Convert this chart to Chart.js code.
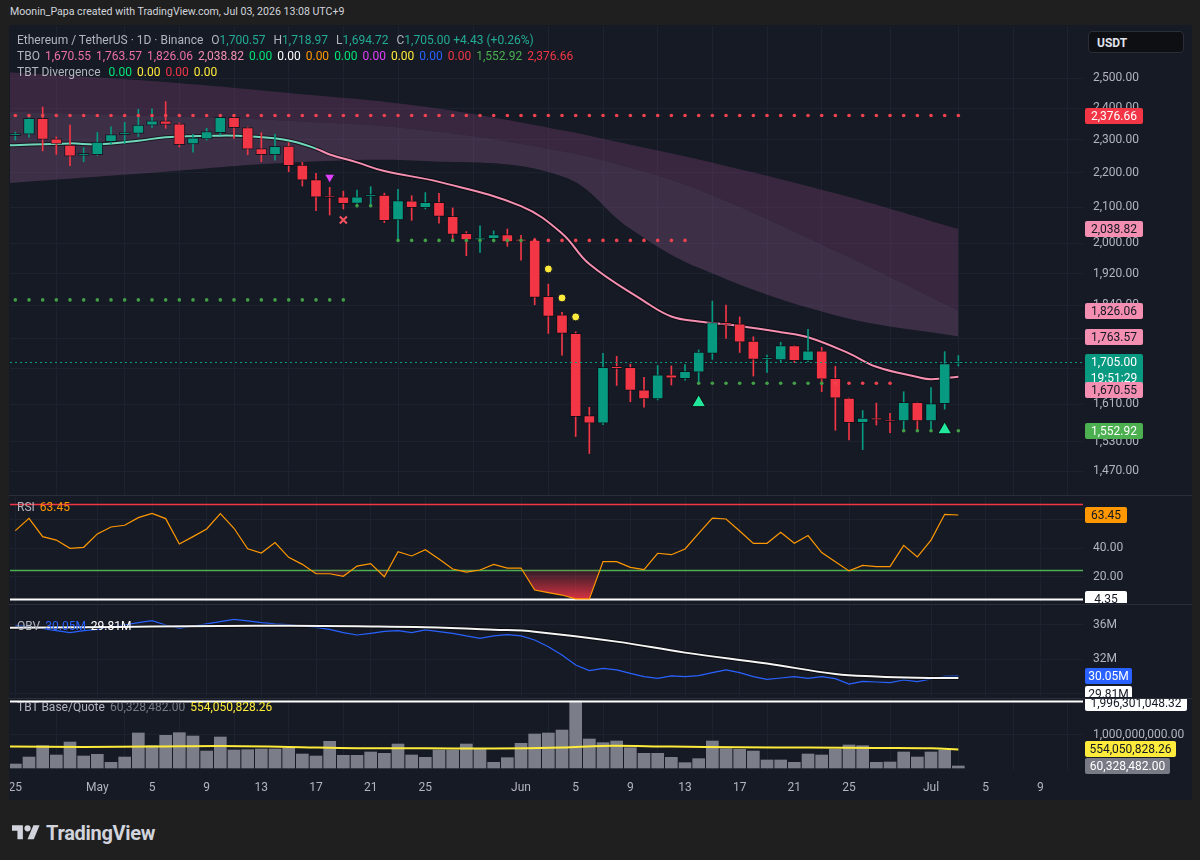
<!DOCTYPE html>
<html>
<head>
<meta charset="utf-8">
<script src="https://cdn.jsdelivr.net/npm/chart.js@4.4.1/dist/chart.umd.min.js"></script>
<style>
  body { margin:0; width:1200px; height:860px; background:#1f1f1f; position:relative; overflow:hidden; font-family:Roboto, "Noto Sans", sans-serif; }
  #frame { position:absolute; left:9px; top:25px; width:1183px; height:775px; background:#161a25; }
  canvas { position:absolute; left:10px; }
  .sep { position:absolute; left:9px; width:1183px; height:1px; background:#2a2e39; }
  .t { position:absolute; white-space:nowrap; font-size:12px; line-height:14px; color:#b2b5be; z-index:5; }
  .t span { margin-right:5px; }
  #usdt { position:absolute; left:1088px; top:31px; width:96px; height:22px; background:#0e0f13; border:1px solid #2a2e39; border-radius:4px; color:#e0e3eb; font-size:12px; font-weight:bold; line-height:22px; padding-left:8px; box-sizing:border-box; z-index:5; }
  #logo { position:absolute; left:12px; top:821px; display:flex; align-items:center; color:#d1d4dc; font-size:20px; font-weight:bold; letter-spacing:-0.3px; }
</style>
</head>
<body>
<div id="frame"></div>
<div class="t" style="left:10px;top:5px;color:#d1d4dc;font-size:10.6px;">Moonin_Papa created with TradingView.com, Jul 03, 2026 13:08 UTC+9</div>
<div class="t" style="left:17px;top:33px;"><span>Ethereum / TetherUS · 1D · Binance</span> <span>O<b style="font-weight:normal;color:#22ab94">1,700.57</b></span> <span>H<b style="font-weight:normal;color:#22ab94">1,718.97</b></span> <span>L<b style="font-weight:normal;color:#22ab94">1,694.72</b></span> <span>C<b style="font-weight:normal;color:#22ab94">1,705.00 +4.43 (+0.26%)</b></span></div>
<div class="t" style="left:17px;top:49px;"><span>TBO</span><span style="color:#ec6fa5">1,670.55</span><span style="color:#ec6fa5">1,763.57</span><span style="color:#ec6fa5">1,826.06</span><span style="color:#f48fb1">2,038.82</span><span style="color:#00e676">0.00</span><span style="color:#ffffff">0.00</span><span style="color:#ff9800">0.00</span><span style="color:#00e676">0.00</span><span style="color:#e040fb">0.00</span><span style="color:#ffeb3b">0.00</span><span style="color:#2962ff">0.00</span><span style="color:#f23645">0.00</span><span style="color:#4caf50">1,552.92</span><span style="color:#f23645">2,376.66</span></div>
<div class="t" style="left:17px;top:65px;"><span>TBT Divergence</span> <span style="color:#00e676">0.00</span><span style="color:#ffeb3b">0.00</span><span style="color:#f23645">0.00</span><span style="color:#ffeb3b">0.00</span></div>
<div id="usdt">USDT</div>
<div class="t" style="left:17px;top:500px;"><span>RSI</span><span style="color:#ff9800">63.45</span></div>
<div class="t" style="left:17px;top:619px;"><span>OBV</span><span style="color:#2962ff">30.05M</span><span style="color:#ffffff">29.81M</span></div>
<div class="t" style="left:17px;top:700px;"><span>TBT Base/Quote</span><span style="color:#787b86">60,328,482.00</span><span style="color:#ffeb3b">554,050,828.26</span></div>

<canvas id="main" width="1182" height="469" style="top:26px"></canvas>
<div class="sep" style="top:495px"></div>
<canvas id="rsi" width="1182" height="106" style="top:497px"></canvas>
<div class="sep" style="top:604px"></div>
<canvas id="obv" width="1182" height="91" style="top:606px"></canvas>
<div class="sep" style="top:698px"></div>
<canvas id="vol" width="1182" height="101" style="top:699px"></canvas>

<div id="logo">
  <svg width="28" height="22" viewBox="0 0 36 28"><path fill="#d1d4dc" d="M14 22H7V11H0V4h14v18Z"/><circle fill="#d1d4dc" cx="20" cy="8" r="4"/><path fill="#d1d4dc" d="M28 22h-8l7.5-18h8L28 22Z"/></svg>
  <span style="margin-left:6px">TradingView</span>
</div>

<script>
// day index 0 = Apr 25, 69 = Jul 3
var dateTicks  = [0, 6, 10, 14, 18, 22, 26, 30, 37, 41, 45, 49, 53, 57, 61, 67, 71, 75];
var dateLabels = ['25', 'May', '5', '9', '13', '17', '21', '25', 'Jun', '5', '9', '13', '17', '21', '25', 'Jul', '5', '9'];

var opens  = [2313,2318,2368,2303,2284,2252,2254,2294,2316,2320,2346,2360,2350,2287,2303,2322,2371,2338,2273,2254,
              2281,2223,2180,2131,2130,2111,2131,2135,2064,2118,2099,2114,2074,2027,2009,2013,2024,2009,2009,1862,
              1816,1771,1585,1569,1694,1692,1641,1621,1675,1666,1681,1724,1797,1794,1753,1710,1709,1742,1707,1730,
              1667,1623,1570,1580,1576,1574,1614,1574,1611,1700.57];
var highs  = [2324,2372,2404,2309,2346,2276,2323,2341,2355,2397,2398,2422,2353,2317,2336,2378,2372,2340,2322,2317,
              2291,2231,2198,2157,2146,2149,2159,2140,2151,2133,2142,2140,2098,2032,2048,2034,2039,2022,2014,1893,
              1822,1775,1603,1724,1717,1699,1669,1696,1695,1698,1732,1850,1840,1811,1763,1720,1750,1742,1781,1738,
              1694,1623,1596,1612,1590,1637,1614,1646,1728,1718.97];
var lows   = [2299,2308,2266,2255,2221,2233,2252,2286,2288,2310,2339,2336,2278,2262,2299,2315,2304,2254,2233,2238,
              2203,2161,2090,2078,2095,2101,2101,2057,2007,2063,2095,2055,2011,1967,1976,2004,1992,1955,1841,1771,
              1720,1541,1506,1566,1651,1615,1603,1619,1652,1663,1657,1710,1759,1726,1672,1680,1705,1703,1705,1637,
              1554,1534,1514,1565,1549,1555,1555,1556,1599,1694.72];
var closes = [2319,2368,2301,2287,2250,2256,2293,2316,2321,2346,2360,2348,2285,2306,2326,2371,2338,2271,2254,2280,
              2221,2178,2129,2127,2110,2130,2134,2062,2119,2099,2114,2074,2024,2009,2015,2024,2004,2006,1859,1812,
              1771,1583,1569,1692,1689,1640,1621,1675,1667,1683,1727,1797,1793,1750,1710,1713,1742,1707,1730,1665,
              1623,1570,1580,1576,1572,1614,1574,1611,1700.57,1705.00];

// TBO lines (sparse readings, day index -> price)
var tboSlowest = [{x:-0.4,y:2520},{x:10,y:2490},{x:20,y:2450},{x:30,y:2405},{x:40,y:2330},{x:45,y:2285},{x:50,y:2240},{x:60,y:2140},{x:69,y:2038.82}];
var tboSlow    = [{x:-0.4,y:2390},{x:10,y:2375},{x:20,y:2360},{x:30,y:2330},{x:40,y:2265},{x:45,y:2215},{x:50,y:2150},{x:60,y:1980},{x:69,y:1826.06}];
var tboMedium  = [{x:-0.4,y:2170},{x:10,y:2200},{x:20,y:2230},{x:30,y:2235},{x:40,y:2190},{x:45,y:2040},{x:50,y:1935},{x:60,y:1815},{x:69,y:1763.57}];
var tboFast    = [{x:-0.4,y:2283},{x:4,y:2289},{x:6,y:2286},{x:9,y:2297},{x:11,y:2308},{x:15,y:2313},{x:17,y:2311},
                  {x:20,y:2298},{x:22,y:2273},{x:23,y:2255},{x:25,y:2231},{x:27,y:2205},{x:31,y:2173},{x:37,y:2103},
                  {x:40,y:2027},{x:42,y:1945},{x:46,y:1850},{x:48,y:1812},{x:50,y:1800},{x:53,y:1789},{x:56,y:1774},
                  {x:58,y:1762},{x:61,y:1724},{x:63,y:1693},{x:66,y:1670},{x:67,y:1665},{x:69,y:1670.55}];

// dotted stop levels
var dotLevels = [
  {price:2376.66, from:0,  to:69, bull:false},
  {price:1853,    from:0,  to:24, bull:true},
  {price:2104,    from:25, to:26, bull:true},
  {price:2008,    from:28, to:37, bull:true},
  {price:2008,    from:38, to:49, bull:false},
  {price:1656,    from:50, to:59, bull:true},
  {price:1656,    from:60, to:64, bull:false},
  {price:1552.92, from:65, to:69, bull:true}
];
var sellMarks   = [{x:23, y:2187}];
var crossMarks  = [{x:24, y:2064}];
var yellowMarks = [{x:39, y:1932}, {x:40, y:1858}, {x:41, y:1811}];
var buyMarks    = [{x:50, y:1613}, {x:68, y:1555}];

var priceTicks = [2500, 2400, 2300, 2200, 2100, 2000, 1920, 1840, 1760, 1690, 1610, 1530, 1470];

var rsi = [52.4,61.1,48.2,45.8,40.0,40.7,50.1,55.0,56.2,61.6,64.6,60.9,43.0,48.2,53.6,64.4,54.1,39.7,36.7,44.0,
           33.6,28.7,22.1,22.1,20.3,27.5,29.2,20.0,37.6,34.6,39.0,32.5,25.4,23.3,24.7,28.7,26.1,26.1,10.6,8.8,
           7.1,4.35,4.35,30.6,30.6,26.6,25.0,36.5,35.5,39.5,50.5,61.3,60.6,52.2,43.5,43.5,51.3,43.5,49.0,37.0,
           30.6,24.1,28.0,27.1,27.1,42.1,33.9,45.8,63.9,63.45];

// OBV in millions
var obv = [35.92,35.81,35.57,35.34,35.11,35.34,35.49,35.81,36.00,36.27,36.51,36.00,35.61,35.88,36.12,36.39,36.66,36.47,36.27,36.12,
           36.04,35.88,35.73,35.49,35.11,34.83,35.03,35.26,35.34,35.11,35.42,35.22,35.03,34.72,34.45,34.72,34.87,34.72,34.25,33.47,
           32.50,31.34,30.68,30.95,30.76,30.37,29.98,29.78,30.06,29.98,30.09,30.44,30.76,30.44,29.98,29.67,29.82,29.98,29.78,29.98,
           29.75,29.12,29.43,29.36,29.28,29.59,29.40,29.71,30.02,30.05];
var obvSma = [{x:-0.4,y:35.69},{x:5,y:35.73},{x:10,y:35.81},{x:15,y:35.88},{x:20,y:35.92},{x:25,y:35.84},{x:30,y:35.73},
              {x:35,y:35.45},{x:38,y:35.22},{x:44,y:34.06},{x:49,y:32.78},{x:55,y:31.5},{x:60,y:30.3},{x:63,y:30.0},
              {x:66,y:29.85},{x:69,y:29.81}];

// quote volume (USDT)
var volume = [119e6,328e6,667e6,388e6,776e6,358e6,408e6,169e6,328e6,1045e6,667e6,975e6,1055e6,955e6,507e6,925e6,537e6,547e6,567e6,567e6,
              587e6,418e6,358e6,796e6,378e6,378e6,478e6,438e6,716e6,388e6,318e6,537e6,537e6,716e6,587e6,169e6,308e6,736e6,1015e6,1045e6,
              1134e6,1996301048.32,866e6,756e6,806e6,607e6,438e6,438e6,318e6,159e6,279e6,806e6,577e6,557e6,507e6,239e6,239e6,169e6,418e6,388e6,
              557e6,687e6,667e6,169e6,179e6,478e6,328e6,478e6,537e6,60328482];
var volumeMa = [{x:-0.4,y:640e6},{x:5,y:630e6},{x:10,y:640e6},{x:15,y:660e6},{x:20,y:630e6},{x:25,y:590e6},{x:30,y:590e6},
                {x:35,y:580e6},{x:40,y:610e6},{x:43,y:660e6},{x:48,y:640e6},{x:53,y:620e6},{x:58,y:610e6},{x:63,y:600e6},
                {x:67,y:590e6},{x:69,y:554050828.26}];

var xMin = -0.39, xMax = 78.12;
var GREEN = '#089981', RED = '#f23645', PINK = '#f48fb1', GRID = '#1e2230';

Chart.defaults.font.family = 'Roboto';
Chart.defaults.font.size = 12;
Chart.defaults.color = '#b2b5be';
Chart.defaults.animation = false;

function fmt(v) { return v.toLocaleString('en-US', {minimumFractionDigits: 2, maximumFractionDigits: 2}); }
function pts(arr) { return arr.map(function (v, i) { return {x: i, y: v}; }); }

var overlay = {
  id: 'overlay',
  beforeDatasetsDraw: function (chart, args, opts) { drawLines(chart, (opts.lines || []).filter(function (l) { return l.under; })); },
  afterDatasetsDraw: function (chart, args, opts) { drawLines(chart, (opts.lines || []).filter(function (l) { return !l.under; })); },
  afterDraw: function (chart, args, opts) {
    var ctx = chart.ctx, a = chart.chartArea, y = chart.scales.y;
    (opts.tags || []).forEach(function (t) {
      var lines = t.text.split('\n');
      ctx.save();
      ctx.font = '12px Roboto';
      var w = t.w || Math.max.apply(null, lines.map(function (s) { return ctx.measureText(s).width; })) + 10;
      var h = 16 * lines.length + (lines.length > 1 ? 1 : 0);
      var py = y.getPixelForValue(t.value) + (t.dy || 0);
      var top = Math.round(py - 8);
      var x0 = a.right + 2;
      ctx.fillStyle = t.bg;
      ctx.beginPath();
      ctx.roundRect(x0, top, w, h, 2);
      ctx.fill();
      ctx.fillStyle = t.fg;
      ctx.textAlign = 'center';
      ctx.textBaseline = 'middle';
      lines.forEach(function (s, i) { ctx.fillText(s, x0 + w / 2, top + 8.5 + i * 16); });
      ctx.restore();
    });
  }
};
function drawLines(chart, lines) {
  var ctx = chart.ctx, a = chart.chartArea, y = chart.scales.y;
  lines.forEach(function (l) {
    var py = Math.round(y.getPixelForValue(l.value)) + 0.5;
    ctx.save();
    ctx.strokeStyle = l.color;
    ctx.lineWidth = l.width || 1;
    ctx.setLineDash(l.dash || []);
    ctx.beginPath();
    ctx.moveTo(a.left, py);
    ctx.lineTo(a.right + (l.ext || 0), py);
    ctx.stroke();
    ctx.restore();
  });
}
Chart.register(overlay);

function xScale(show) {
  return {
    type: 'linear', min: xMin, max: xMax, offset: false,
    afterBuildTicks: function (s) { s.ticks = dateTicks.map(function (v) { return {value: v}; }); },
    afterFit: function (s) { s.height = show ? 30 : 0; s.paddingLeft = 0; s.paddingRight = 0; },
    grid: {color: GRID, drawTicks: false},
    border: {display: false},
    ticks: {display: show, padding: 11, maxRotation: 0, autoSkip: false,
            callback: function (v) { return dateLabels[dateTicks.indexOf(v)]; }}
  };
}
function yScale(extra) {
  var s = {
    position: 'right',
    afterFit: function (sc) { sc.width = 109; sc.paddingTop = 0; sc.paddingBottom = 0; },
    grid: {color: GRID, drawTicks: false},
    border: {display: false},
    ticks: {padding: 10, autoSkip: false}
  };
  for (var k in extra) s[k] = extra[k];
  return s;
}
function dots(list) {
  var out = [];
  list.forEach(function (d) { for (var i = d.from; i <= d.to; i++) out.push({x: i, y: d.price}); });
  return out;
}
function common(scales, overlayOpts) {
  return {
    responsive: false, maintainAspectRatio: false,
    layout: {padding: 0, autoPadding: false},
    plugins: {legend: {display: false}, tooltip: {enabled: false}, overlay: overlayOpts},
    scales: scales
  };
}

// ---- main price pane
var cols = closes.map(function (c, i) { return c >= opens[i] ? GREEN : RED; });
var dotStyle = {type: 'line', showLine: false, pointRadius: 1.8, pointBorderWidth: 0};
new Chart(document.getElementById('main'), {
  type: 'bar',
  data: {datasets: [
    {type: 'line', data: tboSlowest, borderWidth: 0, pointRadius: 0, tension: 0.4, fill: '+1', backgroundColor: 'rgba(140,70,125,0.30)', order: 20},
    {type: 'line', data: tboSlow, borderWidth: 0, pointRadius: 0, tension: 0.4, fill: '+1', backgroundColor: 'rgba(150,95,150,0.30)', order: 19},
    {type: 'line', data: tboMedium, borderWidth: 0, pointRadius: 0, tension: 0.4, fill: false, order: 18},
    {type: 'line', data: tboFast, borderColor: 'rgba(0,0,0,0.55)', borderWidth: 4, pointRadius: 0, tension: 0.4, order: 17},
    {type: 'line', data: tboFast, borderWidth: 2, pointRadius: 0, tension: 0.4, order: 16,
     segment: {borderColor: function (c) { return c.p0.parsed.x < 21.8 ? '#6fd8bb' : PINK; }}},
    {data: lows.map(function (l, i) { return {x: i, y: [l, highs[i]]}; }),
     backgroundColor: cols, barThickness: 1, grouped: false, minBarLength: 1, order: 15},
    {data: opens.map(function (o, i) { return {x: i, y: [o, closes[i]]}; }),
     backgroundColor: cols, borderColor: 'rgba(10,12,18,0.7)', borderWidth: 1, borderSkipped: false,
     barThickness: 11, grouped: false, minBarLength: 2, order: 14},
    Object.assign({data: dots(dotLevels.filter(function (d) { return !d.bull; })), pointBackgroundColor: '#f0434f', order: 13}, dotStyle),
    Object.assign({data: dots(dotLevels.filter(function (d) { return d.bull; })), pointBackgroundColor: '#43a047', order: 12}, dotStyle),
    {type: 'line', showLine: false, data: sellMarks, pointStyle: 'triangle', rotation: 180, pointRadius: 6, pointBackgroundColor: '#e040fb', pointBorderColor: '#161a25', pointBorderWidth: 1, order: 5},
    {type: 'line', showLine: false, data: crossMarks, pointStyle: 'crossRot', pointRadius: 5, pointBorderColor: '#f7525f', pointBorderWidth: 2, order: 5},
    {type: 'line', showLine: false, data: yellowMarks, pointStyle: 'circle', pointRadius: 4, pointBackgroundColor: '#ffeb3b', pointBorderColor: '#161a25', pointBorderWidth: 1, order: 5},
    {type: 'line', showLine: false, data: buyMarks, pointStyle: 'triangle', pointRadius: 8, pointBackgroundColor: '#22e69c', pointBorderColor: '#0b0d12', pointBorderWidth: 1, order: 5}
  ]},
  options: common({
    x: xScale(false),
    y: yScale({
      type: 'logarithmic', min: 1424, max: 2682,
      afterBuildTicks: function (s) { s.ticks = priceTicks.map(function (v) { return {value: v}; }); },
      ticks: {padding: 10, autoSkip: false, callback: function (v) { return fmt(v); }}
    })
  }, {
    lines: [{value: closes[69], color: GREEN, dash: [2, 3]}],
    tags: [
      {value: 2376.66, text: '2,376.66', bg: RED, fg: '#ffffff', w: 58},
      {value: 2038.82, text: '2,038.82', bg: PINK, fg: '#131722', w: 58},
      {value: 1826.06, text: '1,826.06', bg: PINK, fg: '#131722', w: 58},
      {value: 1763.57, text: '1,763.57', bg: PINK, fg: '#131722', w: 58},
      {value: closes[69], text: fmt(closes[69]) + '\n19:51:29', bg: GREEN, fg: '#ffffff', w: 58},
      {value: 1670.55, text: '1,670.55', bg: PINK, fg: '#131722', w: 58, dy: 13},
      {value: 1552.92, text: '1,552.92', bg: '#4caf50', fg: '#ffffff', w: 58}
    ]
  })
});

// ---- RSI pane
var rsiCanvas = document.getElementById('rsi');
var rsiGrad = rsiCanvas.getContext('2d').createLinearGradient(0, 72, 0, 103);
rsiGrad.addColorStop(0, 'rgba(242,54,69,0.08)');
rsiGrad.addColorStop(1, 'rgba(242,54,69,0.9)');
new Chart(rsiCanvas, {
  type: 'line',
  data: {datasets: [
    {data: pts(rsi), borderColor: '#ff9800', borderWidth: 1.2, pointRadius: 0, tension: 0,
     fill: {target: {value: 25}, above: 'rgba(0,0,0,0)', below: rsiGrad}}
  ]},
  options: common({
    x: xScale(false),
    y: yScale({
      min: 1.5, max: 76.1,
      afterBuildTicks: function (s) { s.ticks = [20, 40, 60].map(function (v) { return {value: v}; }); },
      ticks: {padding: 10, callback: function (v) { return fmt(v); }}
    })
  }, {
    lines: [
      {value: 71.4, color: '#f23645', width: 1.5, under: true},
      {value: 25, color: '#4caf50', width: 1.5, under: true},
      {value: 4.35, color: '#ffffff', width: 2, under: true}
    ],
    tags: [
      {value: rsi[69], text: '63.45', bg: '#ff9800', fg: '#131722', w: 42},
      {value: 4.35, text: '4.35', bg: '#ffffff', fg: '#131722', w: 42}
    ]
  })
});

// ---- OBV pane
new Chart(document.getElementById('obv'), {
  type: 'line',
  data: {datasets: [
    {data: pts(obv), borderColor: '#2962ff', borderWidth: 1.2, pointRadius: 0, tension: 0, order: 3},
    {data: obvSma, borderColor: 'rgba(0,0,0,0.6)', borderWidth: 4, pointRadius: 0, tension: 0.4, order: 2},
    {data: obvSma, borderColor: '#f5f5f5', borderWidth: 2, pointRadius: 0, tension: 0.4, order: 1}
  ]},
  options: common({
    x: xScale(false),
    y: yScale({
      min: 27.61, max: 38.21,
      afterBuildTicks: function (s) { s.ticks = [28, 32, 36].map(function (v) { return {value: v}; }); },
      ticks: {padding: 10, callback: function (v) { return v + 'M'; }}
    })
  }, {
    tags: [
      {value: obv[69], text: '30.05M', bg: '#2962ff', fg: '#ffffff', w: 47},
      {value: 29.81, text: '29.81M', bg: '#ffffff', fg: '#131722', w: 47, dy: 16}
    ]
  })
});

// ---- volume pane (with the date axis)
new Chart(document.getElementById('vol'), {
  type: 'bar',
  data: {datasets: [
    {type: 'line', data: volumeMa, borderColor: '#ffeb3b', borderWidth: 2, pointRadius: 0, tension: 0.4, order: 1},
    {data: pts(volume), backgroundColor: '#7b7e89', barThickness: 12, grouped: false, order: 2}
  ]},
  options: common({
    x: xScale(true),
    y: yScale({
      min: -0.0597e9, max: 2.06e9,
      afterBuildTicks: function (s) { s.ticks = [{value: 1e9}]; },
      ticks: {padding: 10, callback: function (v) { return fmt(v); }}
    })
  }, {
    lines: [{value: 1996301048.32, color: '#ffffff', width: 2}],
    tags: [
      {value: 1996301048.32, text: '1,996,301,048.32', bg: '#ffffff', fg: '#131722', w: 102, dy: 2},
      {value: 554050828.26, text: '554,050,828.26', bg: '#ffeb3b', fg: '#131722', w: 91},
      {value: 60328482, text: '60,328,482.00', bg: '#787b86', fg: '#ffffff', w: 85}
    ]
  })
});
</script>
</body>
</html>
